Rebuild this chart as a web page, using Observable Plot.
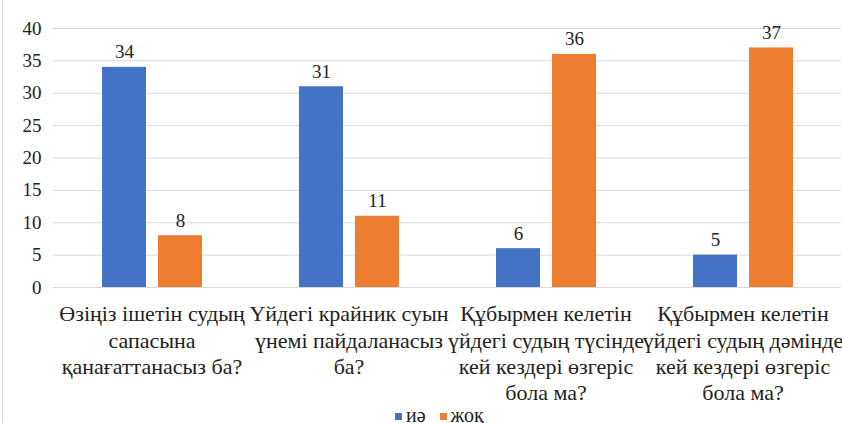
<!DOCTYPE html>
<html>
<head>
<meta charset="utf-8">
<script src="https://cdn.jsdelivr.net/npm/d3@7"></script>
<script src="https://cdn.jsdelivr.net/npm/@observablehq/plot@0.6"></script>
<style>
  html, body { margin: 0; padding: 0; background: #fff; overflow: hidden; }
  #wrap { position: relative; width: 842px; height: 423px; }
  #frame { position: absolute; left: 2px; top: 0; width: 1px; height: 423px; background: #d9d9d9; }
  svg, svg text { font-family: "Liberation Serif", "Times New Roman", serif !important; }
  #legend { display: flex; align-items: center; margin-left: 395px; margin-top: 0px; height: 14px;
            font-family: "Liberation Serif", "Times New Roman", serif; font-size: 20px; color: #222; line-height: 14px; }
  .sw { width: 7px; height: 7px; display: inline-block; margin-right: 4px; margin-top: 2px; }
  .item { display: flex; align-items: center; margin-right: 14px; }
</style>
</head>
<body>
<div id="wrap">
  <div id="chart"></div>
  <div id="legend"></div>
  <div id="frame"></div>
</div>
<script>
const categories = [
  "Өзіңіз ішетін судың\nсапасына\nқанағаттанасыз ба?",
  "Үйдегі крайник суын\nүнемі пайдаланасыз\nба?",
  "Құбырмен келетін\nүйдегі судың түсінде\nкей кездері өзгеріс\nбола ма?",
  "Құбырмен келетін\nүйдегі судың дәмінде\nкей кездері өзгеріс\nбола ма?"
];
const series = ["иә", "жоқ"];
const yesValues = [34, 31, 6, 5];
const noValues = [8, 11, 36, 37];
const colors = ["#4472C4", "#ED7D31"];
const yTicks = [0, 5, 10, 15, 20, 25, 30, 35, 40];

const data = [];
categories.forEach((c, i) => {
  data.push({category: c, series: series[0], value: yesValues[i]});
  data.push({category: c, series: series[1], value: noValues[i]});
});

const font = '"Liberation Serif", "Times New Roman", serif';

const chart = Plot.plot({
  width: 842,
  height: 408,
  marginLeft: 52,
  marginRight: 0,
  marginTop: 28,
  marginBottom: 121,
  style: {fontFamily: font, background: "#fff", color: "#222"},
  fx: {domain: categories, padding: 0, label: null},
  x: {domain: series, paddingInner: 0.22, paddingOuter: 0.857, axis: null},
  y: {domain: [0, 40], axis: null},
  color: {domain: series, range: colors},
  marks: [
    Plot.gridY(yTicks, {stroke: "#d9d9d9", strokeOpacity: 1, strokeWidth: 1}),
    Plot.axisY(yTicks, {anchor: "left", tickSize: 0, tickPadding: 12, fontSize: 19, label: null, fill: "#222"}),
    Plot.axisFx({anchor: "bottom", tickSize: 0, tickPadding: 15, fontSize: 22, lineHeight: 1.2, label: null, fill: "#222"}),
    Plot.barY(data, {fx: "category", x: "series", y: "value", fill: "series"}),
    Plot.text(data, {fx: "category", x: "series", y: "value", text: d => String(d.value),
      lineAnchor: "bottom", dy: -9, fontSize: 19, fill: "#222"})
  ]
});
document.getElementById("chart").appendChild(chart);

const legend = document.getElementById("legend");
series.forEach((s, i) => {
  const item = document.createElement("span");
  item.className = "item";
  const sw = document.createElement("span");
  sw.className = "sw";
  sw.style.background = colors[i];
  item.appendChild(sw);
  item.appendChild(document.createTextNode(s));
  legend.appendChild(item);
});
</script>
</body>
</html>
